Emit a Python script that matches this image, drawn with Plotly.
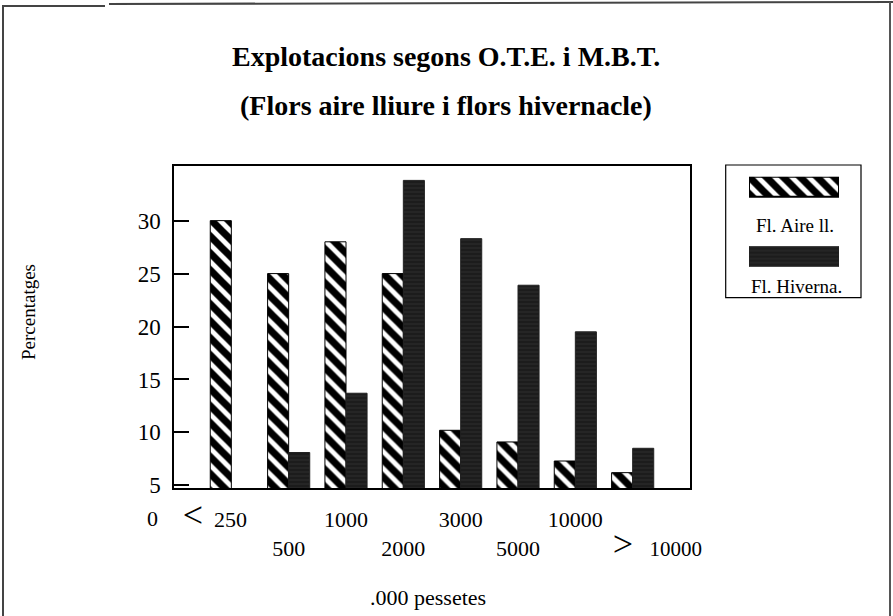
import plotly.graph_objects as go

# ---- data ----
categories = ["< 250", "500", "1000", "2000", "3000", "5000", "10000", "> 10000"]
aire_lliure = [30, 25, 28, 25, 10.2, 9.1, 7.3, 6.2]
hivernacle = [None, 8.1, 13.7, 33.8, 28.3, 23.9, 19.5, 8.5]
series_names = ["Fl. Aire ll.", "Fl. Hiverna."]
y_ticks = [5, 10, 15, 20, 25, 30]

W, H = 893, 616
FONT = "Liberation Serif"
NB = "&nbsp;"

def px(x):
    return x / W

def py(y):
    return (H - y) / H

# tick labels: alternating rows, special glyphs for < and >
def fmt_label(i, lab):
    if lab.startswith("<"):
        t = "<span style='font-size:36px'>&lt;</span>" + NB * 2 + lab[2:] + NB * 6
    elif lab.startswith(">"):
        t = NB * 9 + "<span style='font-size:36px'>&gt;</span>" + NB * 3 + \
            "<span style='font-size:21px'>" + lab[2:] + "</span>"
    else:
        t = lab
    return t if i % 2 == 0 else "<br>" + t

ticktext = [fmt_label(i, c) for i, c in enumerate(categories)]

hatch = dict(shape="\\", fgcolor="#000000", fgopacity=1, bgcolor="white", size=12, solidity=0.6)
dark = dict(shape="-", fgcolor="#4a4a4a", bgcolor="#1c1c1c", size=4, solidity=0.2)

fig = go.Figure()
fig.add_trace(go.Bar(
    x=categories, y=aire_lliure, name=series_names[0],
    marker=dict(color="white", pattern=hatch, line=dict(color="black", width=1)),
    showlegend=False, xaxis="x", yaxis="y",
))
fig.add_trace(go.Bar(
    x=categories, y=hivernacle, name=series_names[1],
    marker=dict(color="#1c1c1c", pattern=dark, line=dict(color="#222", width=1)),
    showlegend=False, xaxis="x", yaxis="y",
))

# legend swatches drawn as bars in a small inset axis
fig.add_trace(go.Bar(
    x=[1], y=[series_names[0]], orientation="h", width=0.2857,
    marker=dict(color="white",
                pattern=dict(shape="\\", fgcolor="#000000", fgopacity=1, bgcolor="white", size=12, solidity=0.6),
                line=dict(color="black", width=2)),
    showlegend=False, xaxis="x2", yaxis="y2", hoverinfo="skip",
))
fig.add_trace(go.Bar(
    x=[1], y=[series_names[1]], orientation="h", width=0.2857,
    marker=dict(color="#1c1c1c", pattern=dark, line=dict(color="#222", width=1)),
    showlegend=False, xaxis="x2", yaxis="y2", hoverinfo="skip",
))

fig.update_layout(
    width=W, height=H,
    margin=dict(l=0, r=0, t=0, b=0),
    paper_bgcolor="white", plot_bgcolor="white",
    font=dict(family=FONT, color="black", size=22),
    barmode="group", bargap=0.265, bargroupgap=0,
    xaxis=dict(
        domain=[px(174), px(690)], range=[-1, 8],
        type="category", categoryorder="array", categoryarray=categories,
        tickmode="array", tickvals=categories, ticktext=ticktext, tickangle=0,
        ticks="", showgrid=False, zeroline=False,
        showline=True, linecolor="black", linewidth=1.5, mirror=True,
        tickfont=dict(size=22, family=FONT), ticklabelstandoff=11,
        anchor="y", automargin=False,
    ),
    yaxis=dict(
        domain=[py(488), py(166)], range=[4.75, 35.16],
        tickmode="array", tickvals=y_ticks,
        ticks="inside", ticklen=15, tickwidth=1.5, tickcolor="black",
        showgrid=False, zeroline=False,
        showline=True, linecolor="black", linewidth=1.5, mirror=True,
        tickfont=dict(size=23, family=FONT), ticklabelstandoff=7,
        anchor="x", automargin=False,
    ),
    xaxis2=dict(domain=[px(749), px(839)], range=[0, 1], visible=False, anchor="y2", fixedrange=True),
    yaxis2=dict(domain=[py(266.7), py(176.7)], type="category",
                categoryorder="array", categoryarray=[series_names[1], series_names[0]],
                range=[-0.143, 1.143], visible=False, anchor="x2", fixedrange=True),
)

shapes = [
    # legend box
    dict(type="rect", xref="paper", yref="paper", x0=px(725.7), x1=px(861), y0=py(297.7), y1=py(165),
         line=dict(color="black", width=1.2)),
    # page frame
    dict(type="line", xref="paper", yref="paper", x0=px(2), x1=px(105), y0=py(6), y1=py(6),
         line=dict(color="#444", width=2)),
    dict(type="line", xref="paper", yref="paper", x0=px(109), x1=px(893), y0=py(4), y1=py(2),
         line=dict(color="#444", width=2)),
    dict(type="line", xref="paper", yref="paper", x0=px(3), x1=px(3), y0=py(6), y1=py(616),
         line=dict(color="#444", width=2)),
    dict(type="line", xref="paper", yref="paper", x0=px(890), x1=px(890), y0=py(2), y1=py(616),
         line=dict(color="#555", width=2)),
]
fig.update_layout(shapes=shapes)

annotations = [
    dict(text="<b>Explotacions segons O.T.E. i M.B.T.</b>", x=px(446), y=py(56), size=28),
    dict(text="<b>(Flors aire lliure i flors hivernacle)</b>", x=px(446), y=py(106), size=28),
    dict(text=".000 pessetes", x=px(428), y=py(597), size=22),
    dict(text="0", x=px(152), y=py(518), size=22),
    dict(text=series_names[0], x=px(795), y=py(225), size=19),
    dict(text=series_names[1], x=px(796), y=py(286), size=19),
]
for a in annotations:
    fig.add_annotation(text=a["text"], x=a["x"], y=a["y"], xref="paper", yref="paper",
                       showarrow=False, xanchor="center", yanchor="middle",
                       font=dict(family=FONT, size=a["size"], color="black"))
fig.add_annotation(text="Percentatges", x=px(28), y=py(312), xref="paper", yref="paper",
                   showarrow=False, textangle=-90, xanchor="center", yanchor="middle",
                   font=dict(family=FONT, size=19, color="black"))

fig.write_html(
    "out.html", config={"displayModeBar": False},
    post_script=("document.documentElement.style.margin='0';document.body.style.margin='0';"
                 "document.body.style.padding='0';document.documentElement.style.overflow='hidden';"
                 "document.body.style.overflow='hidden';"),
)
